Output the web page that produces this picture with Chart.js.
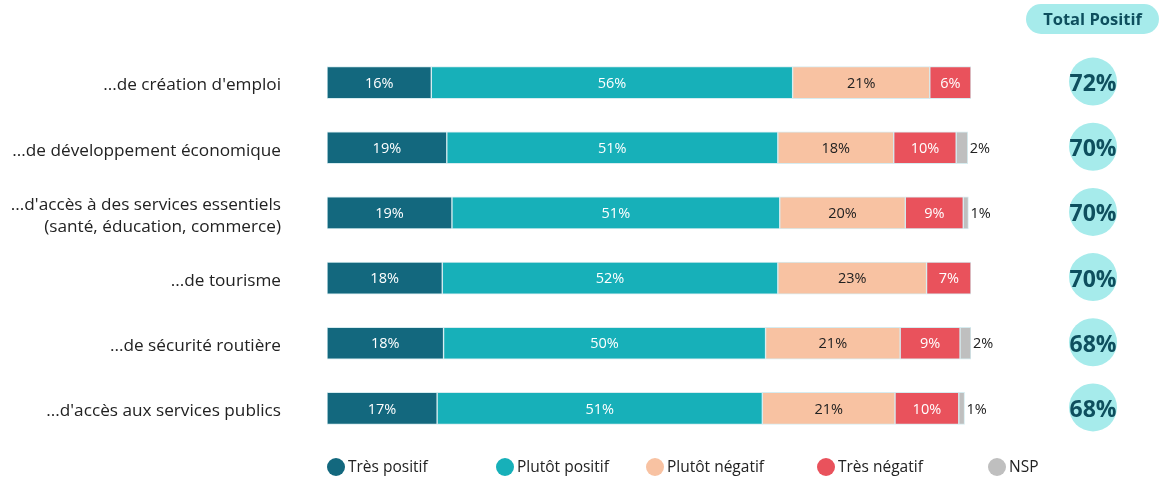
<!DOCTYPE html>
<html>
<head>
<meta charset="utf-8">
<script src="https://cdn.jsdelivr.net/npm/chart.js@4/dist/chart.umd.min.js"></script>
<style>
  html, body { margin: 0; padding: 0; background: #ffffff; }
  #wrap { width: 1160px; height: 484px; }
</style>
</head>
<body>
<div id="wrap"><canvas id="c" width="1160" height="484"></canvas></div>
<script>
const categories = [
  "...de création d'emploi",
  "...de développement économique",
  ["...d'accès à des services essentiels", "(santé, éducation, commerce)"],
  "...de tourisme",
  "...de sécurité routière",
  "...d'accès aux services publics"
];
const seriesNames = ["Très positif", "Plutôt positif", "Plutôt négatif", "Très négatif", "NSP"];
const tresPositif   = [16.2, 18.6, 19.4, 17.9, 18.1, 17.1];
const plutotPositif = [56.1, 51.4, 50.9, 52.1, 50.0, 50.5];
const plutotNegatif = [21.3, 18.0, 19.5, 23.1, 20.9, 20.6];
const tresNegatif   = [6.4, 9.7, 9.0, 6.9, 9.3, 9.9];
const nsp           = [0, 1.8, 0.8, 0, 1.7, 0.9];
const totalPositif  = [72, 70, 70, 70, 68, 68];
const totalHeader = "Total Positif";

const colors = ["#13687e", "#17b0b9", "#f8c2a2", "#e9525c", "#bfbfbf"];
const labelColors = ["#ffffff", "#ffffff", "#222222", "#ffffff", "#222222"];
const FONT = "'Segoe UI', 'Open Sans', 'Noto Sans', sans-serif";

const seriesData = [tresPositif, plutotPositif, plutotNegatif, tresNegatif, nsp];

const barLabels = {
  id: 'barLabels',
  afterDatasetsDraw(chart) {
    const ctx = chart.ctx;
    ctx.save();
    ctx.font = "14.5px " + FONT;
    ctx.textBaseline = 'middle';
    chart.data.datasets.forEach((ds, i) => {
      const meta = chart.getDatasetMeta(i);
      meta.data.forEach((bar, j) => {
        const v = ds.data[j];
        if (!v || v <= 0) return;
        const txt = Math.round(v) + '%';
        ctx.fillStyle = labelColors[i];
        if (i === 4) {
          ctx.textAlign = 'left';
          ctx.fillText(txt, bar.x + 2, bar.y + 1);
        } else {
          ctx.textAlign = 'center';
          ctx.fillText(txt, (bar.x + bar.base) / 2, bar.y + 1);
        }
      });
    });
    ctx.restore();
  }
};

const totals = {
  id: 'totals',
  afterDraw(chart) {
    const ctx = chart.ctx;
    const yScale = chart.scales.y;
    const cx = 1093;
    ctx.save();
    // header pill
    const px = 1026, py = 4, pw = 133, ph = 30, r = 15;
    ctx.fillStyle = "#a6ebeb";
    ctx.beginPath();
    ctx.moveTo(px + r, py);
    ctx.lineTo(px + pw - r, py);
    ctx.arc(px + pw - r, py + r, r, -Math.PI / 2, Math.PI / 2);
    ctx.lineTo(px + r, py + ph);
    ctx.arc(px + r, py + r, r, Math.PI / 2, 3 * Math.PI / 2);
    ctx.closePath();
    ctx.fill();
    ctx.fillStyle = "#0e4f5e";
    ctx.font = "bold 16.5px " + FONT;
    ctx.textAlign = 'center';
    ctx.textBaseline = 'middle';
    ctx.fillText(totalHeader, px + pw / 2, py + ph / 2 + 1);
    // circles
    totalPositif.forEach((v, j) => {
      const cy = yScale.getPixelForValue(j);
      ctx.fillStyle = "#a6ebeb";
      ctx.beginPath();
      ctx.arc(cx, cy - 1, 24, 0, Math.PI * 2);
      ctx.fill();
      ctx.fillStyle = "#0e4f5e";
      ctx.font = "bold 23px " + FONT;
      ctx.fillText(v + '%', cx, cy + 2);
    });
    // legend
    const lx = [336, 505, 655, 826, 997];
    const ly = 467;
    ctx.font = "15.5px " + FONT;
    ctx.textAlign = 'left';
    seriesNames.forEach((name, i) => {
      ctx.fillStyle = colors[i];
      ctx.beginPath();
      ctx.arc(lx[i], ly, 9, 0, Math.PI * 2);
      ctx.fill();
      ctx.fillStyle = "#222222";
      ctx.fillText(name, lx[i] + 12, ly + 1);
    });
    ctx.restore();
  }
};

new Chart(document.getElementById('c'), {
  type: 'bar',
  data: {
    labels: categories,
    datasets: seriesNames.map((name, i) => ({
      label: name,
      data: seriesData[i],
      backgroundColor: colors[i],
      borderColor: "rgba(214,236,240,1)",
      borderWidth: 1,
      borderSkipped: false,
      barThickness: 32
    }))
  },
  options: {
    indexAxis: 'y',
    responsive: false,
    animation: false,
    layout: { padding: { left: 0, right: 189, top: 50, bottom: 43 } },
    plugins: {
      legend: { display: false },
      tooltip: { enabled: false }
    },
    scales: {
      x: { stacked: true, min: 0, max: 100, display: false },
      y: {
        stacked: true,
        grid: { display: false, drawTicks: false },
        border: { display: false },
        ticks: {
          color: "#222222",
          font: { family: FONT, size: 17.2, lineHeight: 1.3 },
          padding: 46,
          labelOffset: 3
        },
        afterFit(scale) {
          scale.width = 327;
          scale.paddingTop = 0;
          scale.paddingBottom = 0;
        }
      }
    }
  },
  plugins: [barLabels, totals]
});
</script>
</body>
</html>
